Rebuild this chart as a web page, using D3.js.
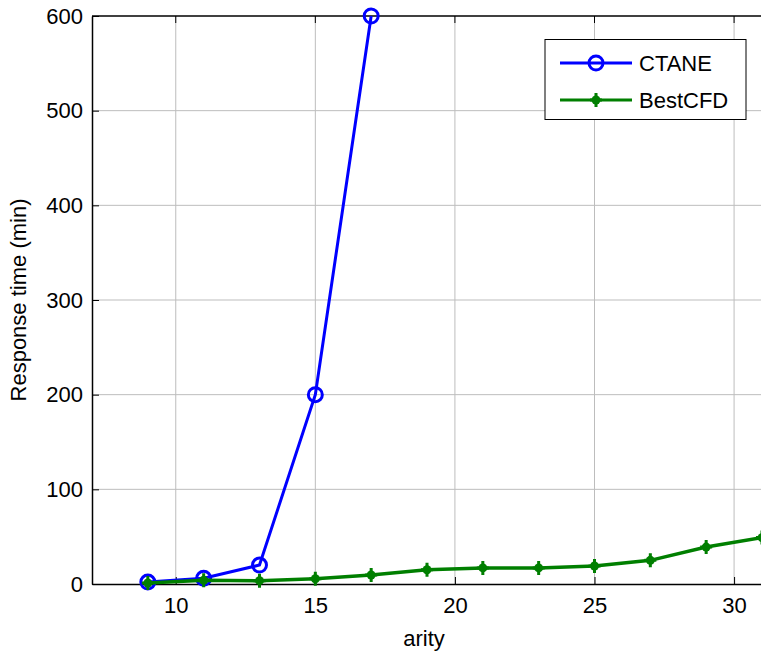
<!DOCTYPE html>
<html>
<head>
<meta charset="utf-8">
<script src="https://cdn.jsdelivr.net/npm/d3@7.9.0/dist/d3.min.js"></script>
<style>
  body { margin: 0; background: #fff; }
  svg { display: block; font-family: "Liberation Sans", Arial, sans-serif; }
</style>
</head>
<body>
<div id="chart"></div>
<script>
const ctaneArity = [9, 11, 13, 15, 17];
const ctaneTime = [2, 6, 20, 200, 600];
const bestArity = [9, 11, 13, 15, 17, 19, 21, 23, 25, 27, 29, 31];
const bestTime = [1, 4, 3.5, 5.5, 9.5, 15, 17, 17, 19, 25, 39, 49];
const xTicks = [10, 15, 20, 25, 30];
const yTicks = [0, 100, 200, 300, 400, 500, 600];

const width = 761;
const height = 654;
const margin = { top: 16, right: -1, bottom: 70, left: 92 };
const fontSize = 22;

const svg = d3.select('#chart')
    .append('svg')
    .attr('width', width)
    .attr('height', height);

const x = d3.scaleLinear()
    .domain([7, 31])
    .range([margin.left, width - margin.right]);

const y = d3.scaleLinear()
    .domain([0, 600])
    .range([height - margin.bottom, margin.top]);

// grid
const grid = svg.append('g').attr('class', 'grid');
grid.selectAll('line.gx')
    .data(xTicks)
    .join('line')
    .attr('class', 'gx')
    .attr('x1', d => x(d)).attr('x2', d => x(d))
    .attr('y1', y(0)).attr('y2', y(600))
    .attr('stroke', '#bdbdbd').attr('stroke-width', 1);
grid.selectAll('line.gy')
    .data(yTicks.slice(1, -1))
    .join('line')
    .attr('class', 'gy')
    .attr('x1', x(7)).attr('x2', x(31))
    .attr('y1', d => y(d)).attr('y2', d => y(d))
    .attr('stroke', '#bdbdbd').attr('stroke-width', 1);

// axes
const xAxis = svg.append('g')
    .attr('transform', `translate(0,${y(0)})`)
    .call(d3.axisBottom(x).tickValues(xTicks).tickSizeInner(-7).tickSizeOuter(0).tickPadding(13));
const yAxis = svg.append('g')
    .attr('transform', `translate(${x(7)},0)`)
    .call(d3.axisLeft(y).tickValues(yTicks).tickSizeInner(-7).tickSizeOuter(0).tickPadding(9));

[xAxis, yAxis].forEach(a => {
    a.attr('font-size', fontSize).attr('font-family', null);
    a.select('.domain').attr('stroke', '#000').attr('stroke-width', 1.5);
    a.selectAll('.tick line').attr('stroke', '#000');
    a.selectAll('.tick text').attr('fill', '#000');
});

// top border
svg.append('line')
    .attr('x1', x(7)).attr('x2', x(31))
    .attr('y1', y(600)).attr('y2', y(600))
    .attr('stroke', '#000').attr('stroke-width', 1.5);
svg.append('g').selectAll('line')
    .data(xTicks)
    .join('line')
    .attr('x1', d => x(d)).attr('x2', d => x(d))
    .attr('y1', y(600)).attr('y2', y(600) + 7)
    .attr('stroke', '#000');

// labels
svg.append('text')
    .attr('x', 424)
    .attr('y', 646)
    .attr('text-anchor', 'middle')
    .attr('font-size', fontSize)
    .text('arity');
svg.append('text')
    .attr('transform', `translate(26,${(y(0) + y(600)) / 2}) rotate(-90)`)
    .attr('text-anchor', 'middle')
    .attr('font-size', fontSize)
    .text('Response time (min)');

const blue = '#0000ff';
const green = '#007f00';

const line = d3.line().x(d => x(d[0])).y(d => y(d[1]));
const ctane = d3.zip(ctaneArity, ctaneTime);
const best = d3.zip(bestArity, bestTime);

function circleMarker(g, cx, cy) {
    g.append('circle')
        .attr('cx', cx).attr('cy', cy).attr('r', 7)
        .attr('fill', 'none').attr('stroke', blue).attr('stroke-width', 3);
}
function plusMarker(g, cx, cy) {
    g.append('path')
        .attr('d', `M${cx - 6},${cy}H${cx + 6}M${cx},${cy - 7}V${cy + 7}`)
        .attr('stroke', green).attr('stroke-width', 3);
    g.append('circle')
        .attr('cx', cx).attr('cy', cy).attr('r', 4.5)
        .attr('fill', green);
}

const plot = svg.append('g');
plot.append('path').datum(ctane)
    .attr('d', line).attr('fill', 'none')
    .attr('stroke', blue).attr('stroke-width', 3);
ctane.forEach(d => circleMarker(plot, x(d[0]), y(d[1])));

plot.append('path').datum(best)
    .attr('d', line).attr('fill', 'none')
    .attr('stroke', green).attr('stroke-width', 3.5);
best.forEach(d => plusMarker(plot, x(d[0]), y(d[1])));

// legend
const legend = svg.append('g');
legend.append('rect')
    .attr('x', 545).attr('y', 39.5)
    .attr('width', 201).attr('height', 80)
    .attr('fill', '#fff').attr('stroke', '#000').attr('stroke-width', 1);
const items = [['CTANE', 63, circleMarker, blue], ['BestCFD', 100, plusMarker, green]];
items.forEach(([name, ly, marker, color]) => {
    legend.append('line')
        .attr('x1', 560).attr('x2', 632)
        .attr('y1', ly).attr('y2', ly)
        .attr('stroke', color).attr('stroke-width', 3);
    marker(legend, 596, ly);
    legend.append('text')
        .attr('x', 639).attr('y', ly)
        .attr('dy', '0.35em')
        .attr('font-size', fontSize)
        .text(name);
});
</script>
</body>
</html>
